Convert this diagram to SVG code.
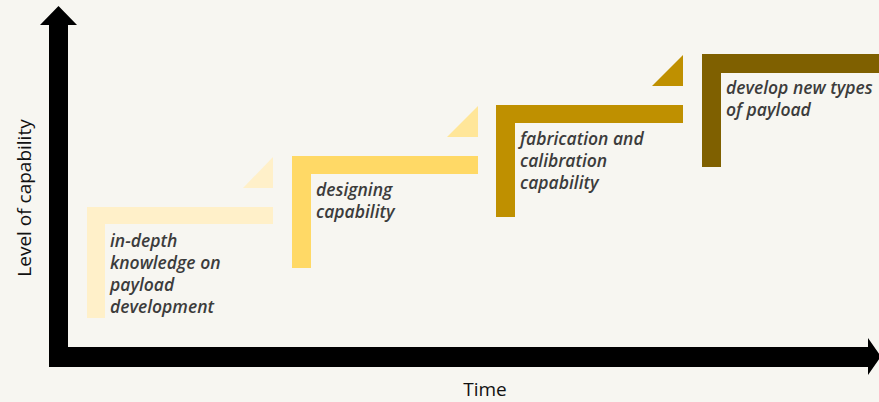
<svg xmlns="http://www.w3.org/2000/svg" width="879" height="402" viewBox="0 0 879 402">
<style>
.lbl{font-family:"Open Sans","Liberation Sans",sans-serif;font-style:italic;font-weight:600;font-size:17.5px;fill:#3c3c3c}
.ax{font-family:"Open Sans","Liberation Sans",sans-serif;font-size:19px;fill:#111}
</style>
<rect width="879" height="402" fill="#F7F6F1"/>
<g id="axes">
<polygon points="49,347 49,25 40,25 58.5,6 77,25 68,25 68,347 868,347 868,338 881,356.5 868,375 868,367 49,367" fill="#000"/>
<text class="ax" transform="translate(31,198) rotate(-90)" text-anchor="middle">Level of capability</text>
<text class="ax" x="485" y="396" text-anchor="middle">Time</text>
</g>
<g id="step1">
<polygon points="87,207 273,207 273,224 105,224 105,318 87,318" fill="#FFF0C9"/>
<polygon points="243,188 273,188 273,157" fill="#FFF0C9"/>
<text class="lbl" x="110" y="247">in-depth</text>
<text class="lbl" x="110" y="269">knowledge on</text>
<text class="lbl" x="110" y="291">payload</text>
<text class="lbl" x="110" y="313">development</text>
</g>
<g id="step2">
<polygon points="292,156 478,156 478,174 311,174 311,268 292,268" fill="#FFD966"/>
<polygon points="447,137 478,137 478,106" fill="#FFE699"/>
<text class="lbl" x="316" y="196">designing</text>
<text class="lbl" x="316" y="218">capability</text>
</g>
<g id="step3">
<polygon points="496,105 683,105 683,123 515,123 515,217 496,217" fill="#BF9000"/>
<polygon points="652,86 683,86 683,55" fill="#BF9000"/>
<text class="lbl" x="520" y="145">fabrication and</text>
<text class="lbl" x="520" y="167">calibration</text>
<text class="lbl" x="520" y="189">capability</text>
</g>
<g id="step4">
<polygon points="702,54 879,54 879,73 721,73 721,167 702,167" fill="#7F6000"/>
<text class="lbl" x="726" y="94">develop new types</text>
<text class="lbl" x="726" y="116">of payload</text>
</g>
<g id="connectors"></g>
</svg>
